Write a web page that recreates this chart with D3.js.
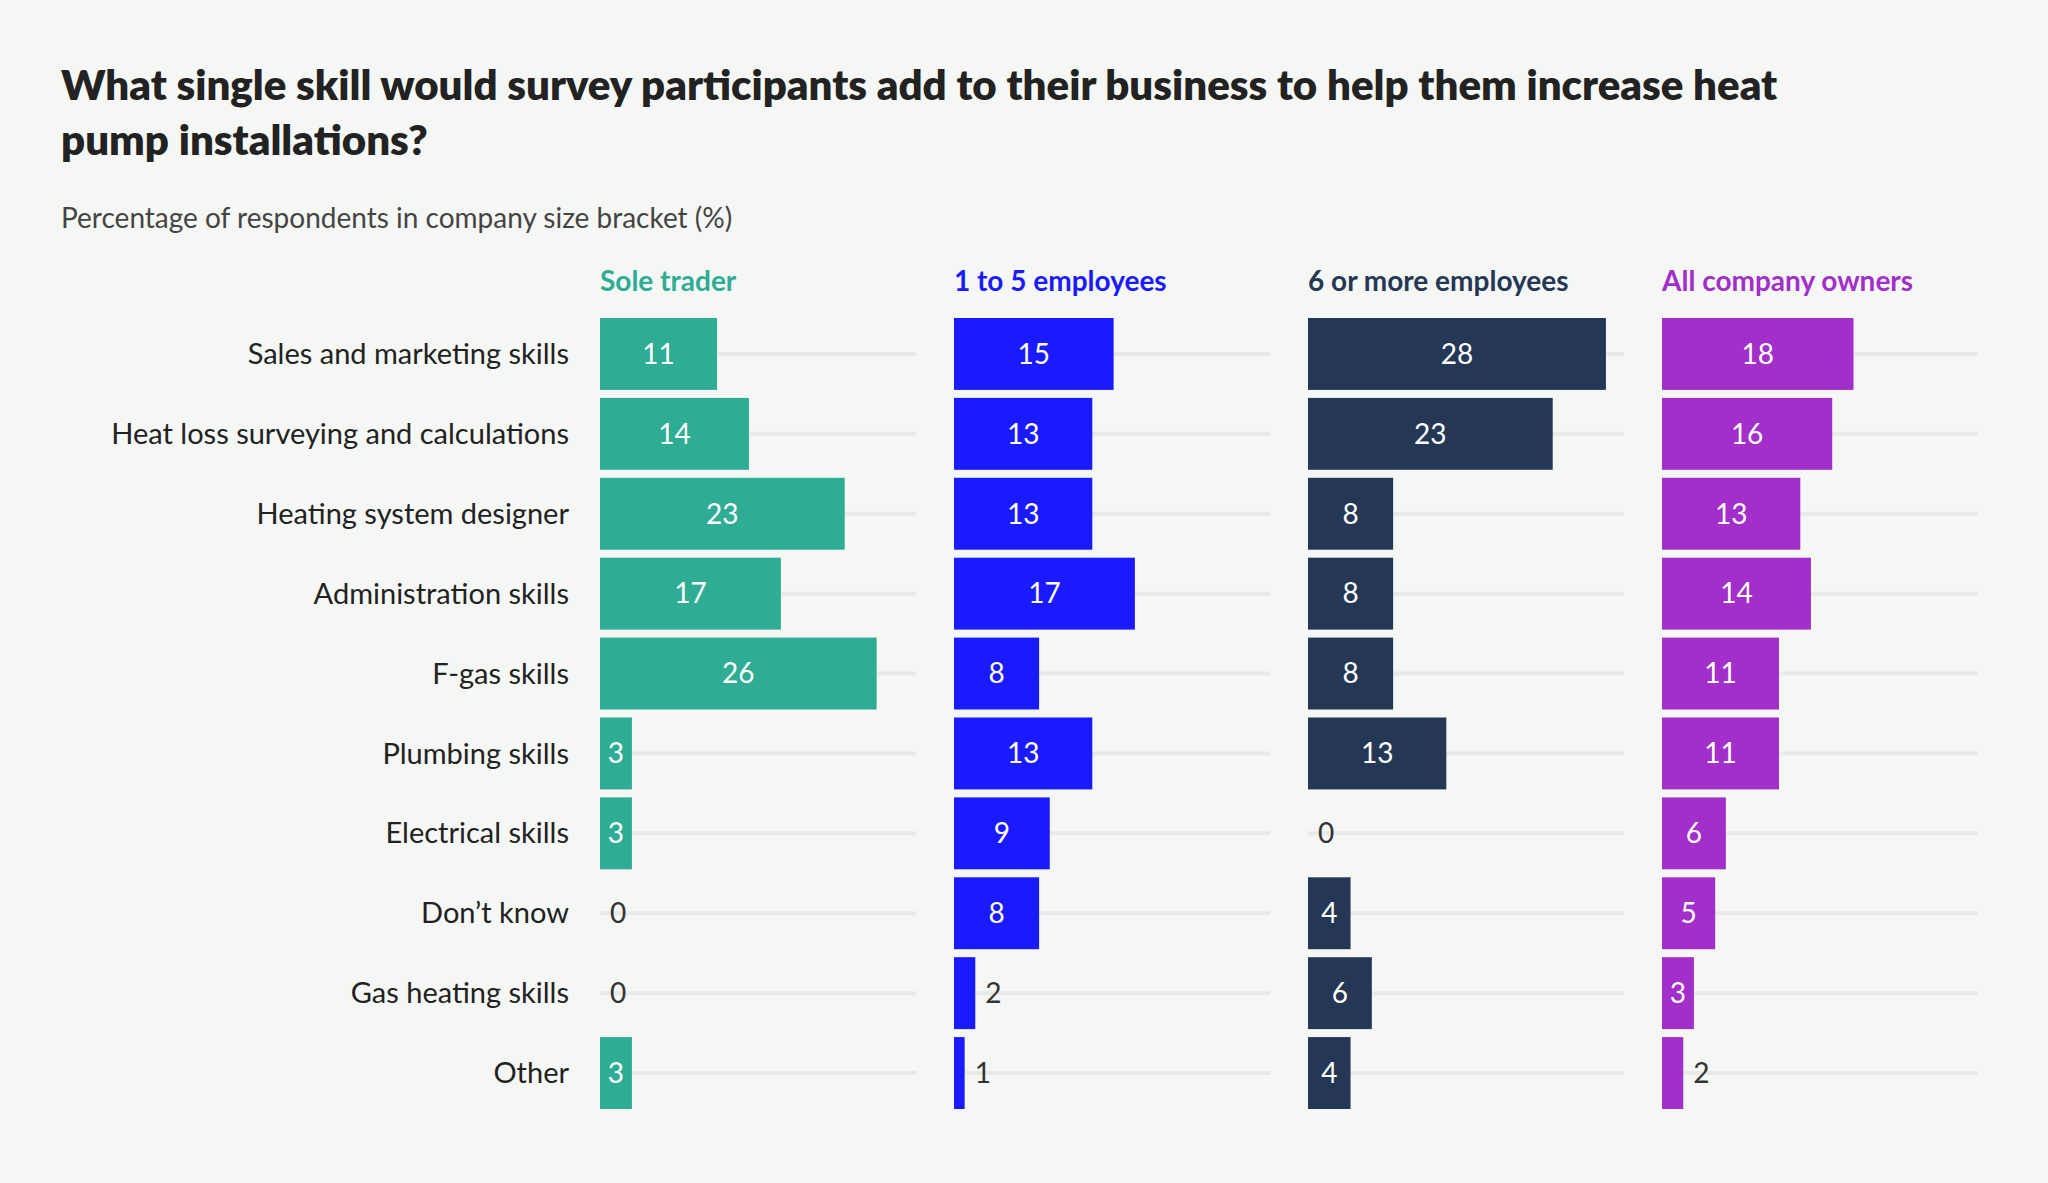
<!DOCTYPE html>
<html><head><meta charset="utf-8">
<script src="https://cdn.jsdelivr.net/npm/d3@7"></script>
<style>
body{margin:0;background:#f5f7f4;font-family:Lato,"Noto Sans",sans-serif;}
</style></head><body>
<svg id="viz" width="2048" height="1183"></svg>
<script>
var skills = ["Sales and marketing skills","Heat loss surveying and calculations","Heating system designer","Administration skills","F-gas skills","Plumbing skills","Electrical skills","Don\u2019t know","Gas heating skills","Other"];
var groups = ["Sole trader","1 to 5 employees","6 or more employees","All company owners"];
var colors = ["#2eac94","#1a1aff","#243856","#a22fc9"];
var soleTrader = [11,14,23,17,26,3,3,0,0,3];
var oneToFive = [15,13,13,17,8,13,9,8,2,1];
var sixPlus = [28,23,8,8,8,13,0,4,6,4];
var allOwners = [18,16,13,14,11,11,6,5,3,2];
var series = [soleTrader, oneToFive, sixPlus, allOwners];

var svg = d3.select("#viz");
svg.append("text").attr("x",61).attr("y",100).attr("font-size",42).attr("font-weight",800).attr("fill","#222")
	.text("What single skill would survey participants add to their business to help them increase heat");
svg.append("text").attr("x",61).attr("y",155).attr("font-size",42).attr("font-weight",800).attr("fill","#222")
	.text("pump installations?");
svg.append("text").attr("x",61).attr("y",228).attr("font-size",28).attr("fill","#444")
	.text("Percentage of respondents in company size bracket (%)");

var y = d3.scaleBand().domain(skills).range([318,1109]).paddingInner(0.1).paddingOuter(0);
var panelX = d3.scaleBand().domain(groups).range([600,2016]).paddingInner(0);
var x = d3.scaleLinear().domain([0,29.7]).range([0,316]);

svg.selectAll("text.skill").data(skills).enter().append("text")
	.attr("class","skill").attr("x",569).attr("y",function(d){return y(d)+y.bandwidth()/2;})
	.attr("dy","0.35em").attr("text-anchor","end").attr("font-size",29).attr("fill","#222")
	.text(function(d){return d;});

groups.forEach(function(g,i){
	var p = svg.append("g").attr("transform","translate("+panelX(g)+",0)");
	p.append("text").attr("x",0).attr("y",291).attr("font-size",28).attr("font-weight",700)
		.attr("fill",colors[i]).text(g);
	var rows = p.selectAll("g.row").data(series[i]).enter().append("g")
		.attr("transform",function(d,j){return "translate(0,"+y(skills[j])+")";});
	rows.append("line").attr("x1",0).attr("x2",316)
		.attr("y1",y.bandwidth()/2).attr("y2",y.bandwidth()/2)
		.attr("stroke","#e8eae7").attr("stroke-width",4);
	rows.append("rect").attr("width",function(d){return x(d);}).attr("height",y.bandwidth())
		.attr("fill",colors[i]);
	rows.append("text")
		.attr("x",function(d){return d>=3 ? x(d)/2 : x(d)+10;})
		.attr("y",y.bandwidth()/2).attr("dy","0.35em")
		.attr("text-anchor",function(d){return d>=3 ? "middle" : "start";})
		.attr("font-size",28)
		.attr("fill",function(d){return d>=3 ? "#fff" : "#333";})
		.attr("stroke",function(d){return d>=3 ? colors[i] : "none";})
		.attr("stroke-width",3).attr("paint-order","stroke")
		.text(function(d){return d;});
});
</script></body></html>
